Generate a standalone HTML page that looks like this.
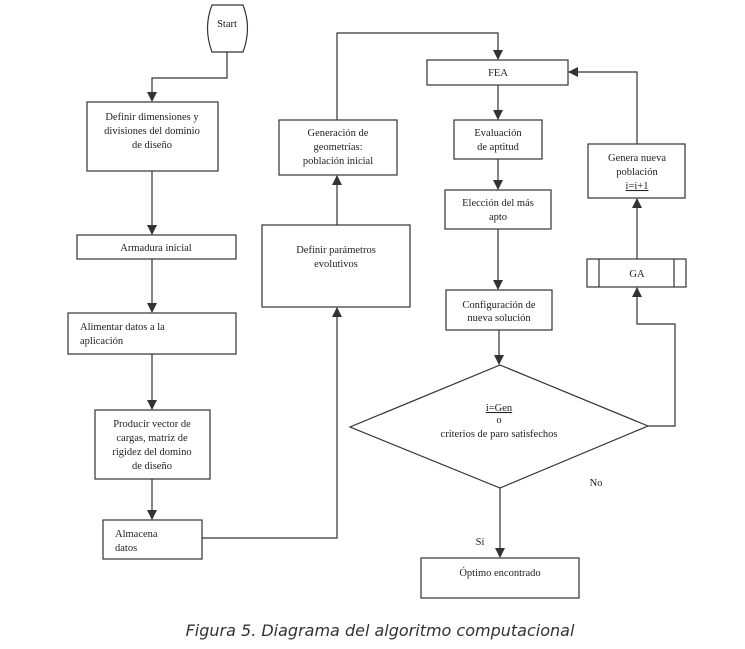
<!DOCTYPE html>
<html><head><meta charset="utf-8"><style>
html,body{margin:0;padding:0;background:#fff;}
svg{display:block}
text{font-family:"Liberation Serif",serif;font-size:10.5px;fill:#222;text-anchor:middle}
.b{fill:#fff;stroke:#333;stroke-width:1.2}
.l{fill:none;stroke:#333;stroke-width:1.2}
</style></head><body>
<svg width="745" height="649" viewBox="0 0 745 649">
<defs><marker id="a" markerWidth="10" markerHeight="10" refX="9" refY="5" orient="auto" markerUnits="userSpaceOnUse"><path d="M0,0 L10,5 L0,10 z" fill="#333"/></marker></defs>
<!-- Start -->
<path class="b" d="M212,5 L243,5 Q252,28 243,52 L212,52 Q203,28 212,5 z"/>
<text x="227" y="27">Start</text>
<polyline class="l" points="227,52 227,78 152,78 152,101" marker-end="url(#a)"/>
<rect class="b" x="87" y="102" width="131" height="69"/>
<text x="152" y="120">Definir dimensiones y</text>
<text x="152" y="134">divisiones del dominio</text>
<text x="152" y="148">de diseño</text>
<line class="l" x1="152" y1="171" x2="152" y2="234" marker-end="url(#a)"/>
<rect class="b" x="77" y="235" width="159" height="24"/>
<text x="156" y="251">Armadura inicial</text>
<line class="l" x1="152" y1="259" x2="152" y2="312" marker-end="url(#a)"/>
<rect class="b" x="68" y="313" width="168" height="41"/>
<text x="80" y="330" style="text-anchor:start">Alimentar datos a la</text>
<text x="80" y="344" style="text-anchor:start">aplicación</text>
<line class="l" x1="152" y1="354" x2="152" y2="409" marker-end="url(#a)"/>
<rect class="b" x="95" y="410" width="115" height="69"/>
<text x="152" y="427">Producir vector de</text>
<text x="152" y="441">cargas, matriz de</text>
<text x="152" y="455">rigidez  del domino</text>
<text x="152" y="469">de diseño</text>
<line class="l" x1="152" y1="479" x2="152" y2="519" marker-end="url(#a)"/>
<rect class="b" x="103" y="520" width="99" height="39"/>
<text x="115" y="537" style="text-anchor:start">Almacena</text>
<text x="115" y="551" style="text-anchor:start">datos</text>
<polyline class="l" points="202,538 337,538 337,308" marker-end="url(#a)"/>
<rect class="b" x="262" y="225" width="148" height="82"/>
<text x="336" y="253">Definir parámetros</text>
<text x="336" y="267">evolutivos</text>
<line class="l" x1="337" y1="225" x2="337" y2="176" marker-end="url(#a)"/>
<rect class="b" x="279" y="120" width="118" height="55"/>
<text x="338" y="136">Generación de</text>
<text x="338" y="150">geometrías:</text>
<text x="338" y="164">población inicial</text>
<polyline class="l" points="337,120 337,33 498,33 498,59" marker-end="url(#a)"/>
<rect class="b" x="427" y="60" width="141" height="25"/>
<text x="498" y="76">FEA</text>
<line class="l" x1="498" y1="85" x2="498" y2="119" marker-end="url(#a)"/>
<rect class="b" x="454" y="120" width="88" height="39"/>
<text x="498" y="136">Evaluación</text>
<text x="498" y="150">de aptitud</text>
<line class="l" x1="498" y1="159" x2="498" y2="189" marker-end="url(#a)"/>
<rect class="b" x="445" y="190" width="106" height="39"/>
<text x="498" y="206">Elección del más</text>
<text x="498" y="220">apto</text>
<line class="l" x1="498" y1="229" x2="498" y2="289" marker-end="url(#a)"/>
<rect class="b" x="446" y="290" width="106" height="40"/>
<text x="499" y="308">Configuración de</text>
<text x="499" y="321">nueva solución</text>
<line class="l" x1="499" y1="330" x2="499" y2="364" marker-end="url(#a)"/>
<polygon class="b" points="500,365 648,426 500,488 350,427"/>
<text x="499" y="411" style="text-decoration:underline">i=Gen</text>
<text x="499" y="423">o</text>
<text x="499" y="437">criterios de paro satisfechos</text>
<line class="l" x1="500" y1="488" x2="500" y2="557" marker-end="url(#a)"/>
<rect class="b" x="421" y="558" width="158" height="40"/>
<text x="500" y="576">Óptimo encontrado</text>
<text x="480" y="545">Sí</text>
<text x="596" y="486">No</text>
<polyline class="l" points="648,426 675,426 675,324 637,324 637,288" marker-end="url(#a)"/>
<rect class="b" x="587" y="259" width="99" height="28"/>
<line class="l" x1="599" y1="259" x2="599" y2="287"/>
<line class="l" x1="674" y1="259" x2="674" y2="287"/>
<text x="637" y="277">GA</text>
<line class="l" x1="637" y1="259" x2="637" y2="199" marker-end="url(#a)"/>
<rect class="b" x="588" y="144" width="97" height="54"/>
<text x="637" y="161">Genera nueva</text>
<text x="637" y="175">población</text>
<text x="637" y="189" style="text-decoration:underline">i=i+1</text>
<polyline class="l" points="637,144 637,72 569,72" marker-end="url(#a)"/>
<text x="380" y="636" style="font-family:'DejaVu Sans',sans-serif;font-style:italic;font-size:16px;fill:#333">Figura 5. Diagrama del algoritmo computacional</text>
</svg>
</body></html>
